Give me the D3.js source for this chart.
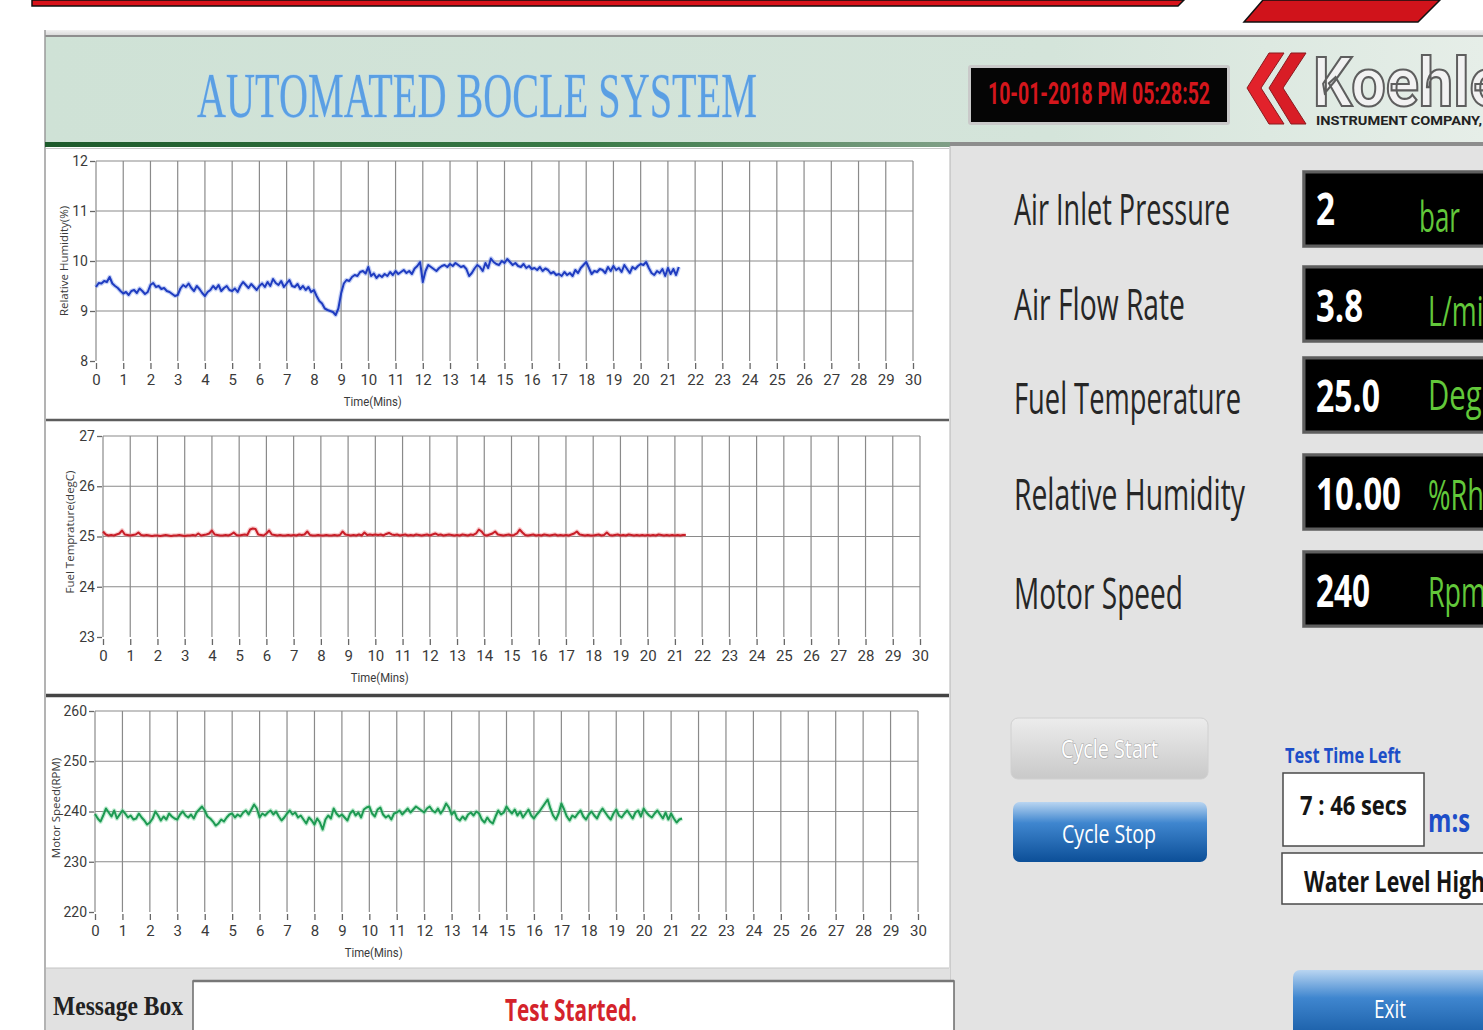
<!DOCTYPE html>
<html><head><meta charset="utf-8">
<script src="https://cdn.jsdelivr.net/npm/d3@7"></script>
<style>
html,body{margin:0;padding:0;background:#fff;overflow:hidden}
svg{display:block}
</style></head><body>
<svg id="c" width="1483" height="1030"></svg>
<script>
// ---------------- DATA ----------------
const sampleStepMins = 0.1;
const timeTicks = [0,1,2,3,4,5,6,7,8,9,10,11,12,13,14,15,16,17,18,19,20,21,22,23,24,25,26,27,28,29,30];
const humidityTicks = [8,9,10,11,12];
const fuelTempTicks = [23,24,25,26,27];
const motorSpeedTicks = [220,230,240,250,260];

const humidity = [
9.48,9.56,9.55,9.60,9.58,9.68,9.55,9.50,9.46,9.40,
9.35,9.38,9.32,9.40,9.42,9.36,9.45,9.40,9.34,9.38,
9.52,9.56,9.48,9.50,9.44,9.46,9.40,9.38,9.34,9.30,
9.32,9.45,9.52,9.48,9.55,9.46,9.40,9.50,9.44,9.36,
9.30,9.38,9.42,9.50,9.44,9.52,9.40,9.46,9.50,9.42,
9.40,9.45,9.38,9.50,9.58,9.52,9.46,9.54,9.48,9.42,
9.50,9.55,9.48,9.58,9.50,9.64,9.56,9.52,9.60,9.48,
9.55,9.62,9.50,9.48,9.54,9.44,9.50,9.42,9.48,9.38,
9.42,9.30,9.20,9.15,9.05,9.02,9.00,8.98,8.92,9.05,
9.35,9.55,9.62,9.60,9.68,9.72,9.70,9.78,9.80,9.75,
9.88,9.70,9.75,9.66,9.72,9.68,9.74,9.70,9.78,9.72,
9.80,9.74,9.78,9.82,9.76,9.80,9.74,9.85,9.90,9.98,
9.58,9.80,9.92,9.88,9.84,9.80,9.86,9.90,9.92,9.88,
9.94,9.90,9.96,9.92,9.88,9.90,9.84,9.70,9.76,9.85,
9.92,9.88,9.80,9.96,9.86,10.05,9.98,9.94,9.92,10.00,
9.96,10.04,9.98,9.92,9.96,9.90,9.88,9.94,9.86,9.90,
9.84,9.86,9.82,9.88,9.80,9.85,9.82,9.75,9.78,9.72,
9.74,9.70,9.78,9.72,9.76,9.70,9.82,9.76,9.86,9.92,
9.98,9.86,9.74,9.80,9.78,9.84,9.82,9.76,9.88,9.80,
9.90,9.82,9.86,9.78,9.92,9.84,9.76,9.88,9.84,9.90,
9.94,9.92,9.98,9.86,9.76,9.72,9.80,9.76,9.84,9.70,
9.86,9.74,9.84,9.72,9.88];

const fuelTemp = [
25.10,25.04,25.02,25.03,25.02,25.04,25.06,25.12,25.04,25.03,
25.02,25.03,25.04,25.08,25.03,25.02,25.03,25.02,25.01,25.02,
25.02,25.01,25.02,25.03,25.02,25.01,25.02,25.02,25.03,25.02,
25.01,25.02,25.02,25.03,25.02,25.06,25.02,25.03,25.04,25.06,
25.12,25.04,25.03,25.02,25.02,25.03,25.02,25.04,25.08,25.03,
25.02,25.03,25.04,25.03,25.14,25.16,25.15,25.04,25.03,25.02,
25.06,25.12,25.04,25.03,25.02,25.03,25.02,25.02,25.03,25.02,
25.03,25.02,25.04,25.03,25.04,25.10,25.03,25.02,25.02,25.03,
25.02,25.02,25.03,25.02,25.02,25.03,25.02,25.03,25.10,25.04,
25.03,25.02,25.03,25.02,25.04,25.02,25.08,25.03,25.04,25.03,
25.04,25.03,25.04,25.02,25.05,25.07,25.04,25.03,25.04,25.02,
25.03,25.04,25.02,25.03,25.02,25.04,25.03,25.02,25.03,25.04,
25.02,25.04,25.06,25.03,25.04,25.02,25.03,25.04,25.03,25.02,
25.03,25.02,25.04,25.03,25.02,25.04,25.03,25.06,25.14,25.10,
25.03,25.02,25.04,25.06,25.10,25.04,25.03,25.02,25.03,25.04,
25.02,25.03,25.06,25.14,25.08,25.03,25.02,25.03,25.04,25.02,
25.03,25.02,25.04,25.03,25.02,25.03,25.04,25.02,25.03,25.02,
25.03,25.02,25.04,25.06,25.10,25.04,25.03,25.02,25.03,25.02,
25.02,25.03,25.04,25.02,25.03,25.08,25.03,25.02,25.03,25.04,
25.02,25.03,25.02,25.04,25.03,25.02,25.03,25.02,25.03,25.02,
25.03,25.02,25.03,25.02,25.04,25.03,25.02,25.03,25.02,25.03,
25.02,25.03,25.02,25.03,25.03];

const motorSpeed = [
239.5,238.6,238.0,239.2,240.6,239.8,239.0,240.2,238.6,239.4,
240.2,239.6,238.8,239.2,238.4,238.6,239.6,238.8,238.2,237.4,
237.8,238.6,240.0,239.2,238.2,239.0,238.4,239.6,239.0,238.6,
238.4,239.4,240.0,239.2,238.8,239.4,238.6,239.8,240.4,241.0,
240.2,239.0,238.6,238.0,237.2,237.6,238.4,238.0,238.8,239.4,
239.6,238.8,239.4,239.0,239.8,240.2,239.4,240.4,241.4,240.6,
238.8,239.6,239.2,239.8,240.2,239.4,240.0,239.0,238.2,238.8,
239.6,240.2,239.4,239.8,238.8,239.2,238.4,237.6,238.8,238.2,
237.4,238.6,237.8,236.4,238.4,239.2,238.6,240.6,239.6,239.0,
239.4,238.8,238.2,239.6,240.2,239.2,239.8,238.8,240.4,240.8,
241.0,239.6,239.0,240.4,240.8,239.4,238.8,239.2,238.4,239.6,
239.8,240.2,239.4,240.0,240.6,239.8,240.4,241.0,240.6,240.2,
239.8,240.6,241.0,240.2,239.8,240.6,239.6,240.4,241.6,240.8,
239.4,240.0,238.6,238.2,239.0,238.4,239.4,239.8,239.2,240.0,
239.6,238.4,237.8,238.8,238.0,237.6,239.0,240.2,239.4,239.8,
241.0,240.2,239.6,240.4,239.2,240.0,238.8,239.6,240.4,239.2,
238.6,239.4,240.0,240.8,241.6,242.4,240.6,239.2,238.4,239.6,
241.6,240.4,239.0,238.2,239.2,238.8,239.6,240.2,239.0,238.4,
239.4,240.0,239.2,238.6,239.8,240.6,239.8,239.0,238.4,239.6,
240.4,239.2,238.8,239.6,240.2,239.4,238.6,239.8,240.2,239.0,
240.6,239.8,239.2,238.8,239.6,240.2,239.4,238.6,239.8,238.4,
239.6,238.6,237.8,238.4,238.6];

const readingLabels = ["Air Inlet Pressure","Air Flow Rate","Fuel Temperature","Relative Humidity","Motor Speed"];
const readingValues = ["2","3.8","25.0","10.00","240"];
const readingUnits  = ["bar","L/min","DegC","%Rh","Rpm"];

const titleText = "AUTOMATED BOCLE SYSTEM";
const dateText = "10-01-2018 PM 05:28:52";
const timeLeftText = "7 : 46 secs";
const statusText = "Water Level High";
const messageText = "Test Started.";

// ---------------- DRAW ----------------
const svg = d3.select('#c');
const SANS = "'Open Sans','Noto Sans',sans-serif";
const NARROW = "'Liberation Sans Narrow','Roboto','Noto Sans',sans-serif";
const SERIF = "'Liberation Serif','DejaVu Serif',serif";
const defs = svg.append('defs');

function lg(id, stops, vertical=true){
  const g = defs.append('linearGradient').attr('id',id)
    .attr('x1',0).attr('y1',0).attr('x2',vertical?0:1).attr('y2',vertical?1:0);
  stops.forEach(s=>g.append('stop').attr('offset',s[0]).attr('stop-color',s[1]));
}
lg('hdrBg',[[0,'#cfe2d6'],[0.7,'#d4e4da'],[1,'#e6eee8']],false);
lg('greenLine',[[0,'#1d5a2b'],[0.6,'#3a7a47'],[1,'#7f9f86']],false);
lg('btnGray',[[0,'#ececec'],[1,'#c9c9c9']]);
lg('btnBlue',[[0,'#b9d5f1'],[0.35,'#3f86cf'],[1,'#0c4f98']]);
lg('topStrip',[[0,'#f2f2f2'],[1,'#d6d6d6']]);

// top red bars
svg.append('polygon').attr('points','32,0 1184,0 1178,6 32,6').attr('fill','#d8121a').attr('stroke','#111').attr('stroke-width',1.5);
svg.append('polygon').attr('points','1263,0 1440,0 1418,22 1244,22').attr('fill','#d0131b').attr('stroke','#111').attr('stroke-width',1.5);

// header panel
svg.append('rect').attr('x',45).attr('y',30).attr('width',1438).attr('height',6).attr('fill','url(#topStrip)');
svg.append('rect').attr('x',45).attr('y',37).attr('width',1438).attr('height',106).attr('fill','url(#hdrBg)');
svg.append('line').attr('x1',45).attr('x2',1483).attr('y1',36).attr('y2',36).attr('stroke','#8e8e8e').attr('stroke-width',2);
svg.append('line').attr('x1',45).attr('x2',45).attr('y1',30).attr('y2',1030).attr('stroke','#9a9a9a').attr('stroke-width',1.5);
svg.append('rect').attr('x',45).attr('y',142).attr('width',905).attr('height',5).attr('fill','url(#greenLine)');
svg.append('rect').attr('x',950).attr('y',142).attr('width',533).attr('height',4).attr('fill','#8d8d8d');

svg.append('text').text(titleText).attr('x',197).attr('y',117)
  .attr('textLength',560).attr('lengthAdjust','spacingAndGlyphs')
  .attr('font-family',SERIF).attr('font-size',64)
  .attr('fill','#5a9fe3').attr('stroke','#a9cff2').attr('stroke-width',0.8).attr('paint-order','stroke');

// date box
svg.append('rect').attr('x',968).attr('y',65).attr('width',262).attr('height',60).attr('rx',3).attr('fill','#c9c9c9');
svg.append('rect').attr('x',971).attr('y',68).attr('width',256).attr('height',54).attr('fill','#050505');
svg.append('text').text(dateText).attr('x',988).attr('y',104)
  .attr('textLength',222).attr('lengthAdjust','spacingAndGlyphs')
  .attr('font-family',NARROW).attr('font-weight','bold').attr('font-size',31).attr('fill','#d4161c');

// logo
const chev = (dx)=>`${1269+dx},53 ${1284+dx},53 ${1261+dx},88 ${1284+dx},124 ${1269+dx},124 ${1247+dx},88`;
svg.append('polygon').attr('points',chev(0)).attr('fill','#e2222b').attr('stroke','#8a1a1f').attr('stroke-width',1);
svg.append('polygon').attr('points',chev(22)).attr('fill','#d81d26').attr('stroke','#8a1a1f').attr('stroke-width',1);
svg.append('text').text('Koehler').attr('x',1313).attr('y',106)
  .attr('textLength',212).attr('lengthAdjust','spacingAndGlyphs')
  .attr('font-family',NARROW).attr('font-weight','bold').attr('font-size',68)
  .attr('fill','#f2f2f2').attr('stroke','#5e5e5e').attr('stroke-width',2.2);
svg.append('text').text('INSTRUMENT COMPANY,').attr('x',1316).attr('y',125)
  .attr('textLength',166).attr('lengthAdjust','spacingAndGlyphs')
  .attr('font-family',NARROW).attr('font-weight','bold').attr('font-size',13).attr('fill','#222');

// right panel
svg.append('rect').attr('x',950).attr('y',146).attr('width',533).attr('height',884).attr('fill','#e3e3e3');
svg.append('line').attr('x1',950).attr('x2',950).attr('y1',146).attr('y2',1030).attr('stroke','#b5b5b5');

// chart panels
svg.append('rect').attr('x',46).attr('y',147).attr('width',903).attr('height',273).attr('fill','#fff');
svg.append('rect').attr('x',46).attr('y',421).attr('width',903).attr('height',273).attr('fill','#fff');
svg.append('rect').attr('x',46).attr('y',697).attr('width',903).attr('height',271).attr('fill','#fff');
svg.append('line').attr('x1',46).attr('x2',949).attr('y1',148.5).attr('y2',148.5).attr('stroke','#c8c8c8');
svg.append('line').attr('x1',46).attr('x2',949).attr('y1',420).attr('y2',420).attr('stroke','#5d5d5d').attr('stroke-width',2.5);
svg.append('line').attr('x1',46).attr('x2',949).attr('y1',695.5).attr('y2',695.5).attr('stroke','#444').attr('stroke-width',3.5);
svg.append('rect').attr('x',46).attr('y',968).attr('width',904).attr('height',62).attr('fill','#e1e1e1');
svg.append('line').attr('x1',46).attr('x2',949).attr('y1',968).attr('y2',968).attr('stroke','#c4c4c4');

const charts = [
  {data:humidity, ticks:humidityTicks, x0:96, x1:913, yTop:161, yBot:361, color:'#1f3cc0', halo:'#7e98ea',
   label:'Relative Humidity(%)', labelX:64, labelY:261, timeY:406},
  {data:fuelTemp, ticks:fuelTempTicks, x0:103, x1:920, yTop:436, yBot:637, color:'#c81e28', halo:'#ef8d92',
   label:'Fuel Temprature(degC)', labelX:70, labelY:532, timeY:682},
  {data:motorSpeed, ticks:motorSpeedTicks, x0:95, x1:918, yTop:711, yBot:912, color:'#1d9a52', halo:'#7fd6a1',
   label:'Motor Speed(RPM)', labelX:56, labelY:808, timeY:957}
];

charts.forEach(c=>{
  const x = d3.scaleLinear().domain([0,30]).range([c.x0,c.x1]);
  const y = d3.scaleLinear().domain([c.ticks[0],c.ticks[c.ticks.length-1]]).range([c.yBot,c.yTop]);
  const g = svg.append('g');
  g.selectAll('line.v').data(timeTicks).join('line').attr('class','v')
    .attr('x1',d=>x(d)).attr('x2',d=>x(d)).attr('y1',c.yTop).attr('y2',c.yBot)
    .attr('stroke','#8a8a8a').attr('stroke-width',1.2);
  g.selectAll('line.h').data(c.ticks.slice(1)).join('line').attr('class','h')
    .attr('x1',c.x0).attr('x2',c.x1).attr('y1',d=>y(d)).attr('y2',d=>y(d))
    .attr('stroke','#8a8a8a').attr('stroke-width',1.2);

  const xa = g.append('g').attr('transform',`translate(0,${c.yBot+2})`)
    .call(d3.axisBottom(x).tickValues(timeTicks).tickSize(6).tickPadding(5).tickFormat(d3.format('d')));
  xa.select('.domain').remove();
  xa.selectAll('line').attr('stroke','#666').attr('stroke-width',1.3);
  xa.selectAll('text').attr('font-family',NARROW).attr('font-size',15).attr('fill','#3a3a3a');

  const ya = g.append('g').attr('transform',`translate(${c.x0-1},0)`)
    .call(d3.axisLeft(y).tickValues(c.ticks).tickSize(5).tickPadding(2).tickFormat(d3.format('d')));
  ya.select('.domain').remove();
  ya.selectAll('line').attr('stroke','#666').attr('stroke-width',1.3);
  ya.selectAll('text').attr('font-family',NARROW).attr('font-size',14).attr('fill','#3a3a3a');

  const line = d3.line().x((d,i)=>x(i*sampleStepMins)).y(d=>y(d));
  g.append('path').datum(c.data).attr('d',line).attr('fill','none')
    .attr('stroke',c.halo).attr('stroke-width',4.5).attr('stroke-opacity',0.45).attr('stroke-linejoin','round');
  g.append('path').datum(c.data).attr('d',line).attr('fill','none')
    .attr('stroke',c.color).attr('stroke-width',2).attr('stroke-linejoin','round');

  g.append('text').text(c.label).attr('transform',`translate(${c.labelX},${c.labelY}) rotate(-90)`)
    .attr('text-anchor','middle').attr('dy','0.35em')
    .attr('font-family',SANS).attr('font-size',11.5).attr('fill','#3a3a3a');
  g.append('text').text('Time(Mins)').attr('x',x(9.1)).attr('y',c.timeY)
    .attr('textLength',58).attr('lengthAdjust','spacingAndGlyphs')
    .attr('font-family',NARROW).attr('font-size',13).attr('fill','#3a3a3a');
});

// message box
svg.append('text').text('Message Box').attr('x',53).attr('y',1015)
  .attr('textLength',130).attr('lengthAdjust','spacingAndGlyphs')
  .attr('font-family',SERIF).attr('font-weight','bold').attr('font-size',27).attr('fill','#222');
svg.append('rect').attr('x',193).attr('y',981).attr('width',761).attr('height',60).attr('fill','#fff').attr('stroke','#6a6a6a').attr('stroke-width',1.5);
svg.append('line').attr('x1',193).attr('x2',954).attr('y1',981).attr('y2',981).attr('stroke','#777').attr('stroke-width',2.5);
svg.append('text').text(messageText).attr('x',505).attr('y',1021)
  .attr('textLength',132).attr('lengthAdjust','spacingAndGlyphs')
  .attr('font-family',SANS).attr('font-weight','bold').attr('font-size',30).attr('fill','#d4232b');

// readings
const rowLabelBase = [225,320,414,510,609];
const labelLens = [216,171,227,231,169];
const boxTops = [170,265,356,453,550];
const valueBase = [225,322,412,510,607];
const valueLens = [19,47,64,85,54];
const unitBase = [232,326,410,510,607];
const unitLens = [41,72,72,56,58];
const unitX = [1419,1428,1428,1428,1428];

const rows = svg.append('g');
readingLabels.forEach((lab,i)=>{
  rows.append('text').text(lab).attr('x',1014).attr('y',rowLabelBase[i])
    .attr('textLength',labelLens[i]).attr('lengthAdjust','spacingAndGlyphs')
    .attr('font-family',SANS).attr('font-size',43).attr('fill','#262626');
  rows.append('rect').attr('x',1302).attr('y',boxTops[i]).attr('width',200).attr('height',78)
    .attr('fill','#a0a0a0');
  rows.append('rect').attr('x',1304).attr('y',boxTops[i]+2).attr('width',200).attr('height',74)
    .attr('fill','#000').attr('stroke','#5f5f5f').attr('stroke-width',3);
  rows.append('text').text(readingValues[i]).attr('x',1316).attr('y',valueBase[i])
    .attr('textLength',valueLens[i]).attr('lengthAdjust','spacingAndGlyphs')
    .attr('font-family',SANS).attr('font-weight','bold').attr('font-size',44).attr('fill','#fff');
  rows.append('text').text(readingUnits[i]).attr('x',unitX[i]).attr('y',unitBase[i])
    .attr('textLength',unitLens[i]).attr('lengthAdjust','spacingAndGlyphs')
    .attr('font-family',SANS).attr('font-size',42).attr('fill','#62c83a');
});

// buttons
svg.append('rect').attr('x',1011).attr('y',718).attr('width',197).attr('height',61).attr('rx',7)
  .attr('fill','url(#btnGray)').attr('stroke','#d0d0d0');
svg.append('text').text('Cycle Start').attr('x',1061).attr('y',758)
  .attr('textLength',97).attr('lengthAdjust','spacingAndGlyphs')
  .attr('font-family',SANS).attr('font-size',25).attr('fill','#ffffff')
  .attr('stroke','#a9a9a9').attr('stroke-width',1.2).attr('paint-order','stroke');
svg.append('rect').attr('x',1013).attr('y',802).attr('width',194).attr('height',60).attr('rx',7)
  .attr('fill','url(#btnBlue)');
svg.append('text').text('Cycle Stop').attr('x',1062).attr('y',843)
  .attr('textLength',94).attr('lengthAdjust','spacingAndGlyphs')
  .attr('font-family',SANS).attr('font-size',25).attr('fill','#fff');

svg.append('text').text('Test Time Left').attr('x',1285).attr('y',763)
  .attr('textLength',116).attr('lengthAdjust','spacingAndGlyphs')
  .attr('font-family',SANS).attr('font-weight','bold').attr('font-size',21).attr('fill','#1d4ec8');
svg.append('rect').attr('x',1283).attr('y',773).attr('width',141).attr('height',73)
  .attr('fill','#fff').attr('stroke','#4a4a4a').attr('stroke-width',1.5);
svg.append('text').text(timeLeftText).attr('x',1300).attr('y',815)
  .attr('textLength',107).attr('lengthAdjust','spacingAndGlyphs')
  .attr('font-family',SANS).attr('font-weight','bold').attr('font-size',27).attr('fill','#151515');
svg.append('text').text('m:s').attr('x',1428).attr('y',832)
  .attr('textLength',42).attr('lengthAdjust','spacingAndGlyphs')
  .attr('font-family',SANS).attr('font-weight','bold').attr('font-size',32).attr('fill','#1d4ec8');
svg.append('rect').attr('x',1282).attr('y',853).attr('width',220).attr('height',51)
  .attr('fill','#fff').attr('stroke','#4a4a4a').attr('stroke-width',1.5);
svg.append('text').text(statusText).attr('x',1304).attr('y',892)
  .attr('textLength',181).attr('lengthAdjust','spacingAndGlyphs')
  .attr('font-family',SANS).attr('font-weight','bold').attr('font-size',28).attr('fill','#151515');

svg.append('rect').attr('x',1293).attr('y',970).attr('width',210).attr('height',80).attr('rx',7)
  .attr('fill','url(#btnBlue)');
svg.append('text').text('Exit').attr('x',1374).attr('y',1018)
  .attr('textLength',32).attr('lengthAdjust','spacingAndGlyphs')
  .attr('font-family',SANS).attr('font-size',26).attr('fill','#fff');
</script>
</body></html>
